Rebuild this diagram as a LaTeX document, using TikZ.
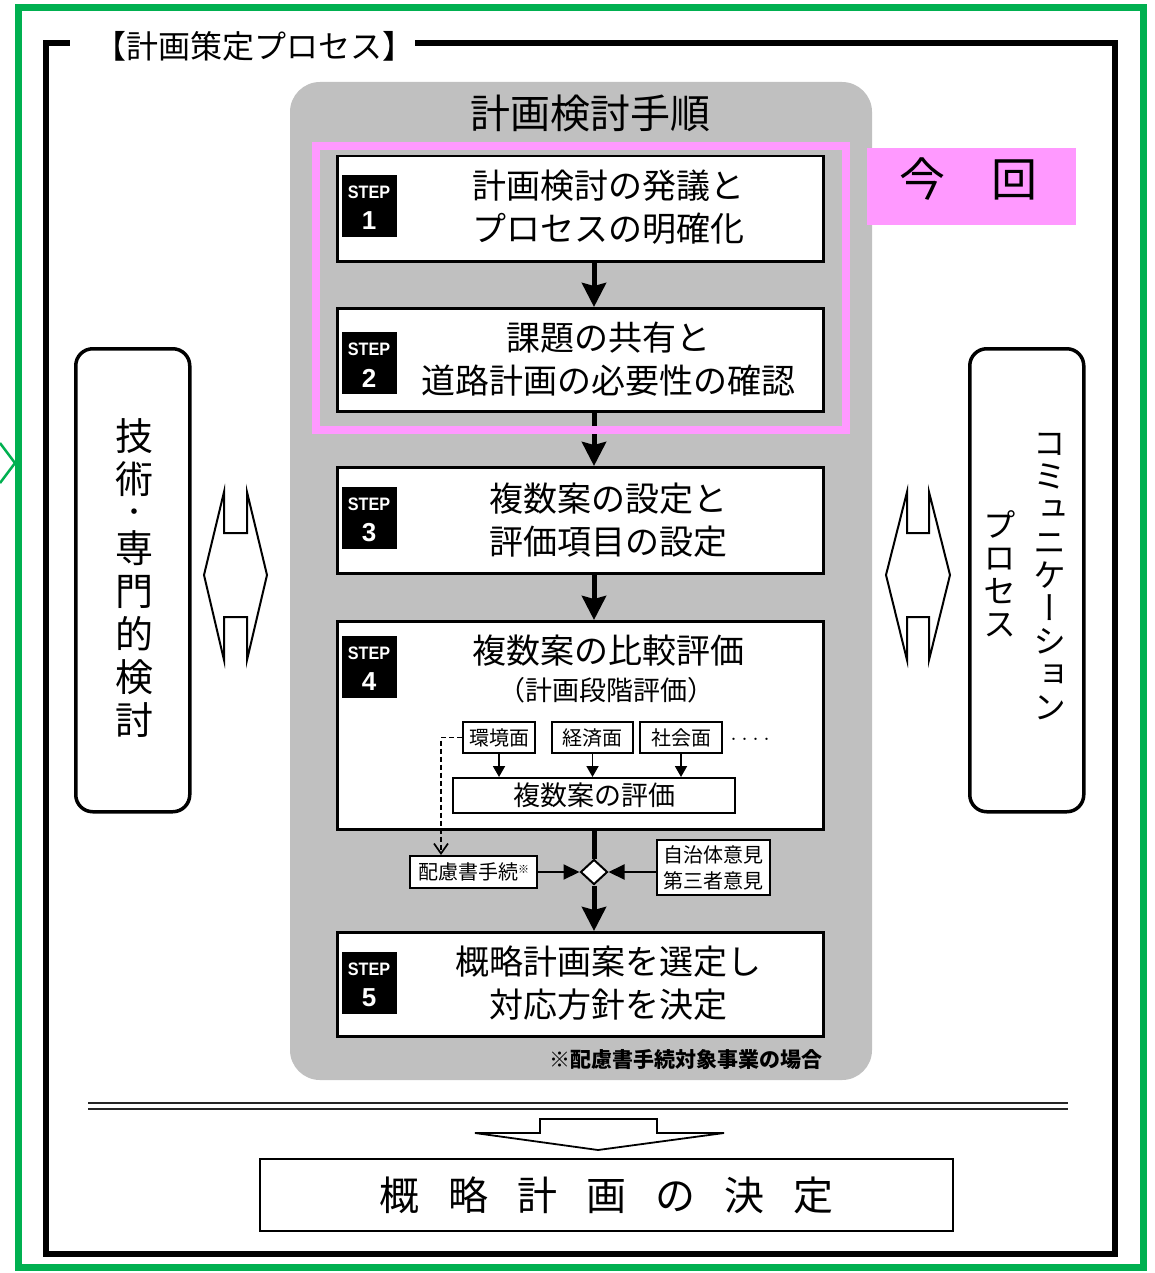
\documentclass[tikz,border=0pt]{standalone}
\usepackage{fontspec}
\setmainfont{Noto Sans CJK JP}
\newfontfamily\jpv[RawFeature=+vert]{Noto Sans CJK JP}
\newfontfamily\arialf{Liberation Sans}
\usetikzlibrary{arrows.meta,shapes.geometric,calc}
\definecolor{grn}{RGB}{0,176,80}
\definecolor{pnk}{RGB}{255,153,255}
\definecolor{gbox}{RGB}{192,192,192}
\newcommand\mybadge[3]{%
  \node[badge] (#1) at (369,#2) {};
  \node[badgelbl] at ([yshift=14pt]#1.center) {STEP};
  \node[badgenum] at ([yshift=-15pt]#1.center) {#3};
}
\begin{document}
\begin{tikzpicture}[x=1pt,y=-1pt,
  stepbox/.style={draw, line width=2.5pt, fill=white, inner sep=0, anchor=north west, minimum width=486},
  steptext/.style={font=\fontsize{34}{43}\selectfont, align=center, inner sep=0},
  badge/.style={fill=black, minimum width=55, minimum height=62, inner sep=0},
  badgelbl/.style={text=white, inner sep=0, font=\arialf\bfseries\fontsize{18}{18}\selectfont, xscale=0.9},
  badgenum/.style={text=white, inner sep=0, font=\arialf\bfseries\fontsize{26}{26}\selectfont},
  bigarrow/.style={line width=5pt, -{Stealth[length=24pt,width=24pt,inset=3pt]}},
  thinarrow/.style={line width=2pt, -{Triangle[length=16pt,width=15pt]}},
  smallarrow/.style={line width=1.8pt, -{Triangle[length=11pt,width=12pt]}},
  smallbox/.style={draw, line width=2pt, fill=white, inner sep=0, minimum height=31, font=\fontsize{20}{20}\selectfont},
  sidebox/.style={draw, line width=3.5pt, rounded corners=17pt, fill=white, inner sep=0, anchor=north west, minimum width=114, minimum height=463},
  vtext/.style={font=\jpv\fontsize{38}{43}\selectfont, align=center, inner sep=0},
  blockarrow/.style={draw, line width=2pt, fill=white, line join=miter}
]
\useasboundingbox (0,0) rectangle (1155,1273);
\fill[white] (0,0) rectangle (1155,1273);

% outer frames
\draw[grn, line width=7pt] (18,8) rectangle (1143,1267);
\draw[grn, line width=2.5pt] (0,443) -- (15,463) -- (0,483);
\draw[line width=6pt] (415,43) -- (1115,43) -- (1115,1254) -- (46,1254) -- (46,43) -- (70,43);
\node[font=\fontsize{32}{32}\selectfont, inner sep=0] (ttl) at (254,46) {【計画策定プロセス】};

% gray panel
\fill[gbox, rounded corners=30pt] (290,82) rectangle (872,1080);
\node[font=\fontsize{40}{40}\selectfont, inner sep=0] (gttl) at (590,113) {計画検討手順};

% step boxes
\coordinate (ax) at (594,0);
\node[stepbox, minimum height=105] (s1) at (336,155) {};
\node[stepbox, minimum height=103] (s2) at (336,307) {};
\node[stepbox, minimum height=106] (s3) at (336,466) {};
\node[stepbox, minimum height=208] (s4) at (336,620) {};
\node[stepbox, minimum height=104] (s5) at (336,931) {};

% arrow under the pink frame
\draw[bigarrow] (s2.south -| ax) -- (s3.north -| ax);

% pink highlight
\draw[pnk, line width=8pt] (316,146) rectangle (846,430);
\node[fill=pnk, minimum width=209, minimum height=77, inner sep=0, anchor=north west] (now) at (867,148) {};
\node[font=\fontsize{46}{46}\selectfont, inner sep=0] (nowt) at (968,179) {今　回};

\mybadge{b1}{206}{1}
\mybadge{b2}{363}{2}
\mybadge{b3}{518}{3}
\mybadge{b4}{667}{4}
\mybadge{b5}{983}{5}

\node[steptext] (t1) at (608,207) {計画検討の発議と\\プロセスの明確化};
\node[steptext] (t2) at (608,359) {課題の共有と\\道路計画の必要性の確認};
\node[steptext] (t3) at (608,520) {複数案の設定と\\評価項目の設定};
\node[steptext] (t4) at (608,651) {複数案の比較評価};
\node[font=\fontsize{27}{27}\selectfont, inner sep=0] (t4b) at (606,690) {（計画段階評価）};
\node[steptext] (t5) at (608,983) {概略計画案を選定し\\対応方針を決定};

% step 4 inner
\node[smallbox, minimum width=72] (env) at (499,737.5) {環境面};
\node[smallbox, minimum width=81] (eco) at (592.5,737.5) {経済面};
\node[smallbox, minimum width=82] (soc) at (681,737.5) {社会面};
\node[font=\fontsize{11}{11}\selectfont, inner sep=0] (dots) at (750,741) {・・・・};
\node[smallbox, minimum width=282, minimum height=35, font=\fontsize{27}{27}\selectfont] (eval) at (594,795.5) {複数案の評価};
\draw[smallarrow] (env.south) -- (env.south |- eval.north);
\draw[smallarrow] (eco.south) -- (eco.south |- eval.north);
\draw[smallarrow] (soc.south) -- (soc.south |- eval.north);

% decision area
\node[diamond, draw, fill=white, line width=2pt, minimum width=27, minimum height=25, inner sep=0] (dm) at (594,872) {};
\node[smallbox, minimum width=127, minimum height=32] (hai) at (473.5,872) {配慮書手続\raisebox{6pt}{\fontsize{11}{11}\selectfont ※}};
\node[smallbox, minimum width=113, minimum height=55, align=center, font=\fontsize{20}{26}\selectfont] (jic) at (713.5,867.5) {自治体意見\\第三者意見};
\draw[dashed, dash pattern=on 5pt off 3pt, line width=1.7pt, -{Straight Barb[length=10pt,width=14pt]}] (env.west) -| ([xshift=32pt]hai.north west);
\draw[thinarrow] (hai.east) -- (hai.east -| dm.west);
\draw[thinarrow] (jic.west |- dm) -- (dm.east);

% main arrows
\draw[bigarrow] (s1.south -| ax) -- (s2.north -| ax);
\draw[bigarrow] (s3.south -| ax) -- (s4.north -| ax);
\draw[line width=5pt] (s4.south -| dm) -- (dm.north);
\draw[bigarrow] (dm.south) -- (s5.north -| dm);

\node[font=\bfseries\fontsize{21}{21}\selectfont, inner sep=0] (fn) at (686,1060) {※配慮書手続対象事業の場合};

% side boxes
\node[sidebox] (lbox) at (74,347) {};
\node[vtext] (ltxt1) at (134,458) {技\\術};
\node[font=\jpv\fontsize{26}{26}\selectfont, inner sep=0] (ltxt2) at (134,515) {・};
\node[vtext] (ltxt3) at (134,634) {専\\門\\的\\検\\討};
\node[sidebox] (rbox) at (968,347) {};
\node[font=\jpv\fontsize{33}{33}\selectfont, align=center, inner sep=0] (rtxt1) at (1050,577) {コ\\ミ\\ュ\\ニ\\ケ\\ー\\シ\\ョ\\ン};
\node[font=\jpv\fontsize{33}{33}\selectfont, align=center, inner sep=0] (rtxt2) at (1000,574) {プ\\ロ\\セ\\ス};

% side double arrows
\draw[blockarrow] (204,575) -- (224,492) -- (224,533) -- (247,533) -- (247,492) -- (267,575) -- (247,660) -- (247,617) -- (224,617) -- (224,660) -- cycle;
\draw[blockarrow] (886,575) -- (907,492) -- (907,533) -- (929,533) -- (929,492) -- (950,575) -- (929,660) -- (929,617) -- (907,617) -- (907,660) -- cycle;

% bottom
\draw[line width=2pt, black!85] (88,1103) -- (1068,1103);
\draw[line width=2pt, black!85] (88,1109) -- (1068,1109);
\draw[blockarrow, line width=1.8pt] (540,1119) -- (657,1119) -- (657,1133) -- (724,1133) -- (598,1150) -- (475,1133) -- (540,1133) -- cycle;
\node[draw, line width=2.5pt, minimum width=693, minimum height=72, inner sep=0, font=\fontsize{40}{40}\selectfont] (fin) at (606.5,1195) {概\hspace{29pt}略\hspace{29pt}計\hspace{29pt}画\hspace{29pt}の\hspace{29pt}決\hspace{29pt}定};
\end{tikzpicture}
\end{document}
